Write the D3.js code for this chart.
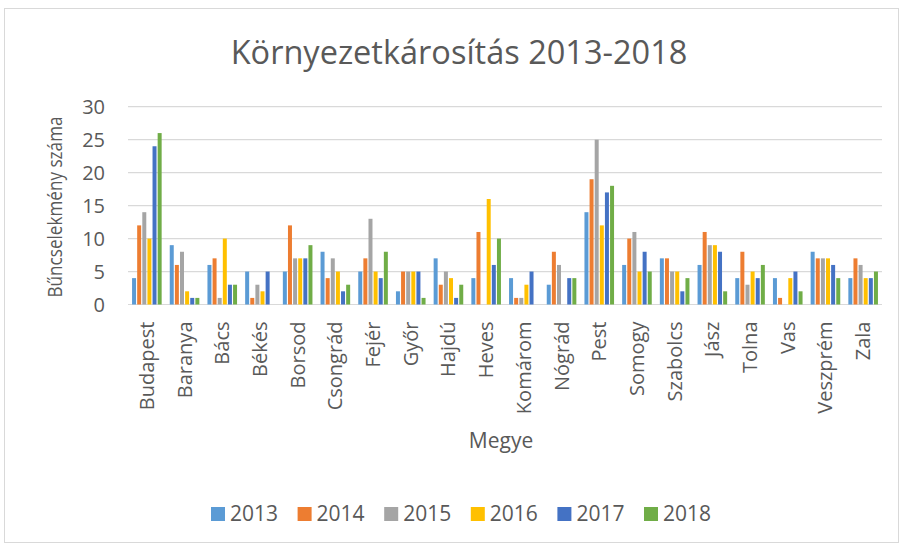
<!DOCTYPE html>
<html><head><meta charset="utf-8">
<script src="https://cdn.jsdelivr.net/npm/d3@7"></script>
<style>body{margin:0;background:#fff}text{font-family:"Open Sans",sans-serif;fill:#595959}</style>
</head><body><svg id="c" width="903" height="547"></svg>
<script>
const categories = ["Budapest","Baranya","Bács","Békés","Borsod","Csongrád","Fejér","Győr","Hajdú","Heves","Komárom","Nógrád","Pest","Somogy","Szabolcs","Jász","Tolna","Vas","Veszprém","Zala"];
const years = ["2013","2014","2015","2016","2017","2018"];
const colors = ["#5B9BD5","#ED7D31","#A5A5A5","#FFC000","#4472C4","#70AD47"];
const v2013 = [4,9,6,5,5,8,5,2,7,4,4,3,14,6,7,6,4,4,8,4];
const v2014 = [12,6,7,1,12,4,7,5,3,11,1,8,19,10,7,11,8,1,7,7];
const v2015 = [14,8,1,3,7,7,13,5,5,0,1,6,25,11,5,9,3,0,7,6];
const v2016 = [10,2,10,2,7,5,5,5,4,16,3,0,12,5,5,9,5,4,7,4];
const v2017 = [24,1,3,5,7,2,4,5,1,6,5,4,17,8,2,8,4,5,6,4];
const v2018 = [26,1,3,0,9,3,8,1,3,10,0,4,18,5,4,2,6,2,4,5];
const series = [v2013,v2014,v2015,v2016,v2017,v2018];
const yTicks = [0,5,10,15,20,25,30];

const svg = d3.select("#c");
svg.append("rect").attr("x",4.5).attr("y",8.5).attr("width",894).attr("height",534)
  .attr("fill","#fff").attr("stroke","#D9D9D9");

const L=128,R=882,T=106.7,B=304.5;
const x = d3.scaleBand().domain(categories).range([L,R]).paddingInner(0.215).paddingOuter(0.1075);
const xs = d3.scaleBand().domain(years).range([0,x.bandwidth()]).paddingInner(0.22);
const y = d3.scaleLinear().domain([0,30]).range([B,T]);

const g = svg.append("g");
g.selectAll("line.grid").data(yTicks).join("line")
  .attr("x1",L).attr("x2",R).attr("y1",d=>y(d)).attr("y2",d=>y(d))
  .attr("stroke","#D9D9D9").attr("stroke-width",1.2);

const yAxis = d3.axisLeft(y).tickValues(yTicks).tickSize(0).tickPadding(23);
svg.append("g").attr("transform",`translate(${L},0)`).call(yAxis)
  .call(a=>a.select(".domain").remove())
  .selectAll("text").style("font-size","20px").attr("fill","#595959").attr("dy","0.35em");

const grp = svg.append("g").selectAll("g").data(categories).join("g")
  .attr("transform",d=>`translate(${x(d)},0)`);
grp.selectAll("rect").data((d,i)=>series.map((s,k)=>({k,v:s[i]}))).join("rect")
  .attr("x",d=>xs(years[d.k])).attr("width",xs.bandwidth())
  .attr("y",d=>y(d.v)).attr("height",d=>B-y(d.v)).attr("fill",d=>colors[d.k]);

const xAxis = d3.axisBottom(x).tickSize(0).tickPadding(0);
svg.append("g").attr("transform",`translate(0,${B})`).call(xAxis)
  .call(a=>a.select(".domain").remove())
  .selectAll("text").style("font-size","20px").attr("fill","#595959")
  .attr("text-anchor","end").attr("transform","rotate(-90)")
  .attr("x",-17).attr("y",0).attr("dy","0.35em");

svg.append("text").attr("x",459).attr("y",63.5).attr("text-anchor","middle")
  .style("font-size","32.5px").text("Környezetkárosítás 2013-2018");
svg.append("text").attr("x",501).attr("y",448).attr("text-anchor","middle")
  .style("font-size","21px").text("Megye");
svg.append("text").attr("transform","translate(62,207) rotate(-90)").attr("text-anchor","middle")
  .attr("textLength",181).attr("lengthAdjust","spacingAndGlyphs")
  .style("font-size","20px").text("Bűncselekmény száma");

const lg = svg.append("g").selectAll("g").data(years).join("g")
  .attr("transform",(d,i)=>`translate(${211+i*86.6},514)`);
lg.append("rect").attr("x",0).attr("y",-7).attr("width",14).attr("height",14).attr("fill",(d,i)=>colors[i]);
lg.append("text").attr("x",19).attr("y",0).attr("dy","0.35em").style("font-size","21px").text(d=>d);
</script></body></html>
